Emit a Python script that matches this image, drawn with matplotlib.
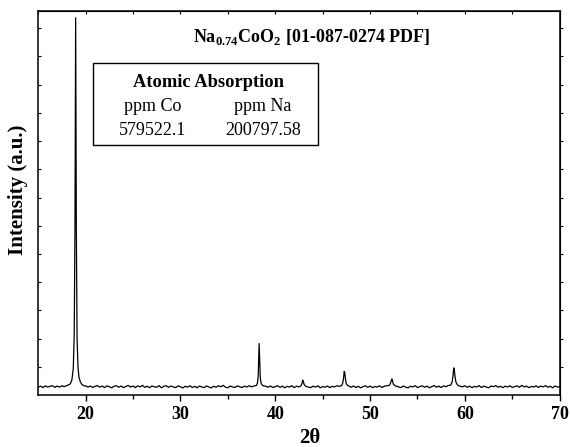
import numpy as np
import matplotlib
matplotlib.use("Agg")
import matplotlib.pyplot as plt
from matplotlib.patches import Rectangle

plt.rcParams['font.family'] = ['Liberation Serif', 'DejaVu Serif']
plt.rcParams['mathtext.fontset'] = 'custom'
plt.rcParams['mathtext.rm'] = 'Liberation Serif:bold'
plt.rcParams['mathtext.bf'] = 'Liberation Serif:bold'

# XRD trace (2theta in degrees, intensity in a.u.)
two_theta = [
    15.0, 15.25, 15.5, 15.75, 16.0, 16.25, 16.5, 16.75, 17.0, 17.25, 17.5, 17.75, 18.0,
    18.2, 18.4, 18.55, 18.7, 18.8, 18.88, 18.95, 19.02, 19.1, 19.2, 19.3, 19.45, 19.6, 19.8,
    20.0, 20.25, 20.5, 20.75, 21.0, 21.25, 21.5, 21.75, 22.0, 22.25, 22.5, 22.75, 23.0, 23.25,
    23.5, 23.75, 24.0, 24.25, 24.5, 24.75, 25.0, 25.25, 25.5, 25.75, 26.0, 26.25, 26.5, 26.75,
    27.0, 27.25, 27.5, 27.75, 28.0, 28.25, 28.5, 28.75, 29.0, 29.25, 29.5, 29.75, 30.0, 30.25,
    30.5, 30.75, 31.0, 31.25, 31.5, 31.75, 32.0, 32.25, 32.5, 32.75, 33.0, 33.25, 33.5, 33.75,
    34.0, 34.25, 34.5, 34.75, 35.0, 35.25, 35.5, 35.75, 36.0, 36.25, 36.5, 36.75, 37.0, 37.25,
    37.5, 37.75,
    38.0, 38.12, 38.2, 38.26, 38.3, 38.35, 38.42, 38.52, 38.7,
    39.0, 39.25, 39.5, 39.75, 40.0, 40.25, 40.5, 40.75, 41.0, 41.25, 41.5, 41.75, 42.0, 42.25, 42.5,
    42.7, 42.82, 42.9, 42.97, 43.05, 43.2, 43.4,
    43.75, 44.0, 44.25, 44.5, 44.75, 45.0, 45.25, 45.5, 45.75, 46.0, 46.25, 46.5, 46.75,
    47.0, 47.12, 47.2, 47.27, 47.33, 47.4, 47.48, 47.6, 47.8,
    48.0, 48.25, 48.5, 48.75, 49.0, 49.25, 49.5, 49.75, 50.0, 50.25, 50.5, 50.75, 51.0, 51.25,
    51.5, 51.75,
    52.0, 52.15, 52.25, 52.3, 52.37, 52.45, 52.6, 52.8,
    53.0, 53.25, 53.5, 53.75, 54.0, 54.25, 54.5, 54.75, 55.0, 55.25, 55.5, 55.75, 56.0, 56.25,
    56.5, 56.75, 57.0, 57.25, 57.5, 57.75, 58.0, 58.25,
    58.5, 58.65, 58.75, 58.82, 58.88, 58.95, 59.05, 59.2, 59.4,
    59.75, 60.0, 60.25, 60.5, 60.75, 61.0, 61.25, 61.5, 61.75, 62.0, 62.25, 62.5, 62.75, 63.0,
    63.25, 63.5, 63.75, 64.0, 64.25, 64.5, 64.75, 65.0, 65.25, 65.5, 65.75, 66.0, 66.25, 66.5,
    66.75, 67.0, 67.25, 67.5, 67.75, 68.0, 68.25, 68.5, 68.75, 69.0, 69.25, 69.5, 69.75, 70.0,
]
intensity = [
    84, 96, 80, 99, 86, 94, 101, 82, 97, 86, 100, 90, 102,
    108, 122, 160, 280, 650, 1800, 4010, 1800, 600, 300, 190, 140, 115, 100,
    98, 86, 96, 82, 94, 102, 85, 97, 80, 99, 90, 78, 95, 100,
    84, 97, 79, 93, 103, 86, 97, 80, 99, 88, 104, 83, 95, 79,
    98, 88, 84, 101, 78, 94, 100, 83, 97, 87, 80, 98, 90, 76,
    95, 85, 100, 81, 94, 78, 97, 87, 80, 98, 86, 77, 95, 84,
    100, 89, 104, 85, 78, 97, 87, 82, 98, 90, 80, 96, 86, 100,
    88, 97,
    102, 128, 200, 400, 548, 380, 180, 122, 100,
    94, 84, 98, 81, 90, 100, 83, 96, 78, 94, 86, 100, 80, 95, 88,
    98, 125, 160, 140, 112, 96, 88,
    80, 96, 85, 100, 78, 92, 84, 97, 80, 94, 87, 100, 93,
    102, 130, 180, 252, 240, 175, 125, 105, 94,
    84, 97, 81, 94, 78, 90, 100, 83, 96, 80, 92, 86, 99, 81,
    95, 100,
    102, 125, 160, 172, 150, 118, 102, 94,
    88, 80, 97, 85, 77, 95, 87, 101, 80, 91, 99, 84, 96, 78,
    90, 102, 85, 96, 80, 99, 90, 103,
    106, 140, 210, 290, 270, 200, 140, 110, 98,
    88, 100, 83, 96, 79, 93, 87, 101, 81, 96, 86, 78, 97, 90,
    102, 84, 94, 79, 96, 86, 100, 81, 91, 98, 84, 104, 87, 96,
    79, 93, 86, 99, 82, 96, 88, 101, 84, 94, 78, 97, 86, 90,
]

title_text = r"Na$_{\mathbf{0.74}}$CoO$_{\mathbf{2}}$ [01-087-0274 PDF]"
aa_header = "Atomic Absorption"
aa_labels = ["ppm Co", "ppm Na"]
aa_values = ["579522.1", "200797.58"]

fig = plt.figure(figsize=(5.7, 4.47), dpi=100)
ax = fig.add_axes([0.067, 0.116, 0.915, 0.859])

ax.plot(two_theta, intensity, color='black', lw=0.9)
ax.set_xlim(15, 70)
ax.set_ylim(0, 4080)

ax.set_xticks([20, 30, 40, 50, 60, 70])
ax.set_xticks([25, 35, 45, 55, 65], minor=True)
ax.set_yticks(np.arange(300, 4000, 300))
ax.set_yticklabels([])
ax.tick_params(axis='x', which='major', direction='out', length=4.5, width=1, pad=3,
               labelsize=13)
ax.tick_params(axis='x', which='minor', direction='out', length=3, width=1)
ax.tick_params(axis='y', direction='in', length=2, width=0.8)
for lab in ax.get_xticklabels():
    lab.set_fontweight('bold')
for sp in ax.spines.values():
    sp.set_linewidth(1.1)

top = ax.secondary_xaxis('top')
top.set_xticks(np.arange(15, 71, 5))
top.set_xticklabels([])
top.tick_params(direction='in', length=2, width=0.8)

right = ax.secondary_yaxis('right')
right.set_yticks(np.arange(300, 4000, 300))
right.set_yticklabels([])
right.tick_params(direction='out', length=2, width=0.8)

ax.text(0.525, 0.932, title_text, transform=ax.transAxes, ha='center', va='center',
        fontsize=13, fontweight='bold')

ax.add_patch(Rectangle((0.105, 0.651), 0.431, 0.214, transform=ax.transAxes,
                       fill=False, edgecolor='black', lw=1))
ax.text(0.326, 0.815, aa_header, transform=ax.transAxes, ha='center', va='center',
        fontsize=13.3, fontweight='bold')
for xc, lab, val in zip([0.219, 0.431], aa_labels, aa_values):
    ax.text(xc, 0.752, lab, transform=ax.transAxes, ha='center', va='center', fontsize=13)
    ax.text(xc, 0.690, val, transform=ax.transAxes, ha='center', va='center', fontsize=13)

fig.text(0.032, 0.575, "Intensity (a.u.)", rotation=90, ha='center', va='center',
         fontsize=15, fontweight='bold')
fig.text(0.544, 0.02, "2θ", ha='center', va='center', fontsize=15, fontweight='bold')

fig.savefig("out.png", dpi=100)
